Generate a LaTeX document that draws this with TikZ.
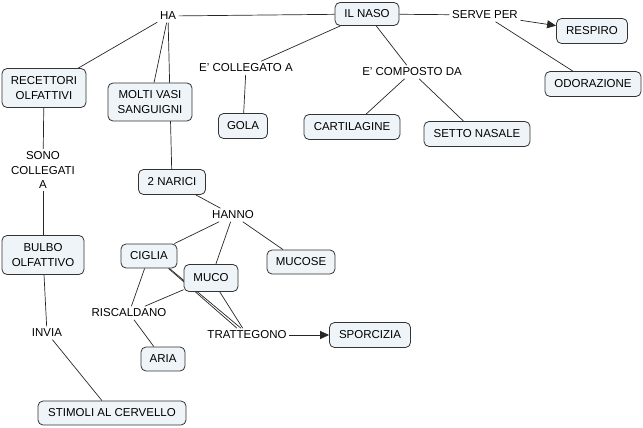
\documentclass[tikz,border=0pt]{standalone}
\usepackage{fontspec}
\setmainfont{Liberation Sans}
\usetikzlibrary{arrows.meta,backgrounds}
\definecolor{boxfill}{HTML}{EEF4F7}
\definecolor{boxline}{HTML}{333333}
\tikzset{
  cbox/.style={draw=boxline, fill=boxfill, rounded corners=5pt, line width=0.8pt, inner sep=0pt, align=center},
  lbl/.style={inner sep=2.5pt, align=center, fill=none},
  link/.style={draw=black!85, line width=0.7pt},
  arr/.style={link, -{Triangle[length=9pt,width=8pt]}},
}
\begin{document}
\begin{tikzpicture}[x=1pt,y=-1pt,font=\fontsize{11.5}{14.5}\selectfont]
\useasboundingbox (0,0) rectangle (643,428);
% boxes
\node[cbox, minimum width=64pt, minimum height=23pt] (naso) at (367,14) {IL NASO};
\node[cbox, minimum width=71pt, minimum height=25pt] (resp) at (592,31) {RESPIRO};
\node[cbox, minimum width=96pt, minimum height=25pt] (odor) at (593,84) {ODORAZIONE};
\node[cbox, minimum width=96pt, minimum height=25pt] (cart) at (352,127) {CARTILAGINE};
\node[cbox, minimum width=106pt, minimum height=25pt] (setto) at (477,134) {SETTO NASALE};
\node[cbox, minimum width=49pt, minimum height=25pt] (gola) at (243,126) {GOLA};
\node[cbox, minimum width=84pt, minimum height=39pt] (rec) at (44,88) {RECETTORI\\OLFATTIVI};
\node[cbox, minimum width=84pt, minimum height=38pt] (vasi) at (150,102) {MOLTI VASI\\SANGUIGNI};
\node[cbox, minimum width=67pt, minimum height=25pt] (nar) at (172,182) {2 NARICI};
\node[cbox, minimum width=82pt, minimum height=39pt] (bulbo) at (43,255) {BULBO\\OLFATTIVO};
\node[cbox, minimum width=56pt, minimum height=24pt] (cig) at (149,256) {CIGLIA};
\node[cbox, minimum width=54pt, minimum height=27pt] (muco) at (211,278) {MUCO};
\node[cbox, minimum width=68pt, minimum height=24pt] (mucose) at (301,262) {MUCOSE};
\node[cbox, minimum width=81pt, minimum height=25pt] (sporc) at (370,335) {SPORCIZIA};
\node[cbox, minimum width=44pt, minimum height=24pt] (aria) at (163,359) {ARIA};
\node[cbox, minimum width=148pt, minimum height=24pt] (stim) at (112,413) {STIMOLI AL CERVELLO};
% labels
\node[lbl] (ha) at (168,16) {HA};
\node[lbl] (serve) at (485,15) {SERVE PER};
\node[lbl] (comp) at (412,72) {E' COMPOSTO DA};
\node[lbl] (coll) at (246,68) {E' COLLEGATO A};
\node[lbl] (sono) at (43,170) {SONO\\COLLEGATI\\A};
\node[lbl] (hanno) at (233,215) {HANNO};
\node[lbl] (risc) at (129,313) {RISCALDANO};
\node[lbl] (trat) at (247,335) {TRATTEGONO};
\node[lbl] (invia) at (47,333) {INVIA};
% connectors
\begin{scope}[on background layer]
\draw[link] (ha) -- (naso);
\draw[link] (ha) -- (rec);
\draw[link] (ha) -- (vasi);
\draw[link] (ha) -- (nar);
\draw[link] (naso) -- (coll);
\draw[link] (coll) -- (gola);
\draw[link] (naso) -- (comp);
\draw[link] (comp) -- (cart);
\draw[link] (comp) -- (setto);
\draw[link] (naso) -- (serve);
\draw[arr] (serve) -- (resp);
\draw[link] (serve) -- (odor);
\draw[link] (rec) -- (sono);
\draw[link] (sono) -- (bulbo);
\draw[link] (bulbo) -- (invia);
\draw[link] (invia) -- (stim);
\draw[link] (nar) -- (hanno);
\draw[link] (hanno) -- (cig);
\draw[link] (hanno) -- (muco);
\draw[link] (hanno) -- (mucose);
\draw[link] (cig) -- (risc);
\draw[link] (muco) -- (risc);
\draw[link] (risc) -- (aria);
\draw[link] ([xshift=-9pt]cig.south east) -- ([xshift=-10pt]trat.north);
\draw[link] ([xshift=-8pt]cig.south east) -- ([xshift=-6pt]trat.north);
\draw[link] (muco) -- (trat);
\draw[arr] (trat) -- (sporc);
\end{scope}
\end{tikzpicture}
\end{document}
